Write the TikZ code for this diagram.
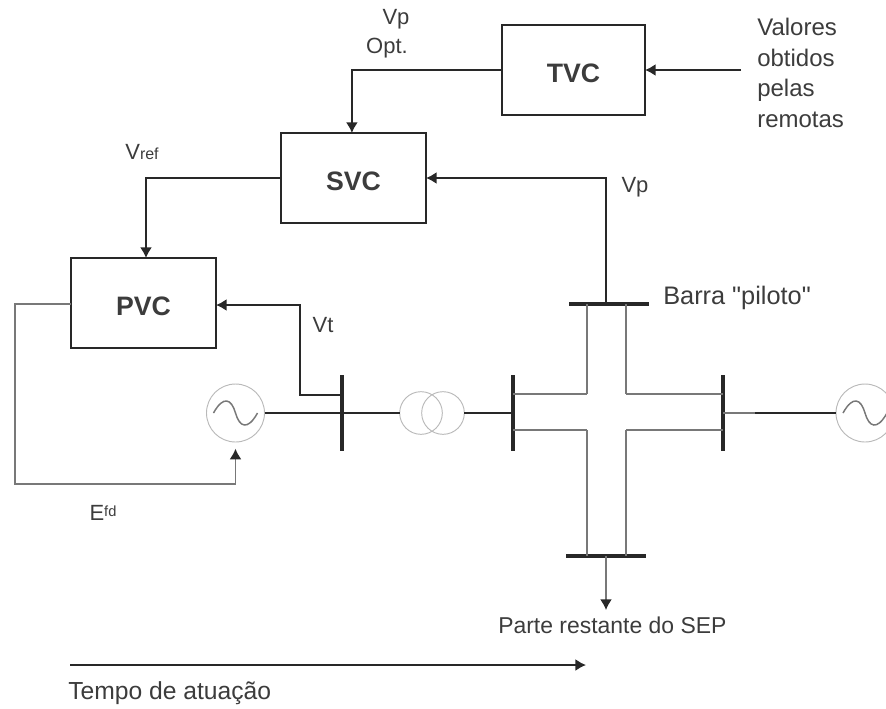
\documentclass[tikz,border=0pt]{standalone}
\usepackage{fontspec}
\setmainfont[Ligatures=TeXOff]{Liberation Sans}
\usetikzlibrary{arrows.meta,positioning,calc}
\definecolor{fio}{RGB}{40,40,40}
\definecolor{fioC}{RGB}{120,120,120}
\definecolor{maqC}{RGB}{185,185,185}
\definecolor{textoC}{RGB}{60,60,60}
\tikzset{
  bloco/.style={rectangle, draw=fio, line width=1.4pt, outer sep=0pt, inner sep=0pt, text height=18pt, text depth=0pt,
                minimum width=108.75pt, minimum height=67.5pt, font=\bfseries\fontsize{20}{22}\selectfont, text=textoC},
  barraV/.style={rectangle, fill=fio, inner sep=0pt, outer sep=0pt, minimum width=2.8pt, minimum height=57pt},
  barraH/.style={rectangle, fill=fio, inner sep=0pt, outer sep=0pt, minimum height=2.8pt, minimum width=60pt},
  maq/.style={circle, draw=maqC, line width=0.7pt, inner sep=0pt, outer sep=0pt, minimum size=43.5pt},
  trafo/.style={circle, draw=maqC, line width=0.7pt, inner sep=0pt, outer sep=0pt, minimum size=32pt},
  rotulo/.style={inner sep=0pt, text=textoC, font=\fontsize{18}{23}\selectfont, align=left},
  rotuloP/.style={inner sep=0pt, text=textoC, font=\fontsize{16.5}{20}\selectfont},
  arr/.style={-{Latex[length=8pt,width=9pt,color=fio]}, line width=1.3pt, draw=fio},
  fiacao/.style={line width=1.3pt, draw=fio},
  fiacaoC/.style={line width=1.2pt, draw=fioC},
}

\begin{document}
\begin{tikzpicture}[x=0.75pt, y=-0.75pt]
    \useasboundingbox (0,0) rectangle (886,708);
    % blocos
    \node[bloco] (pvc) at (143.5,303) {PVC};
    \node[bloco, above right=26.25pt and 48.75pt of pvc] (svc) {SVC};
    \node[bloco, minimum width=107.25pt, above right=13.5pt and 57pt of svc] (tvc) {TVC};
    % barras
    \node[barraV] (b1) at (342,413) {};
    \node[barraV] (b2) at (513,413) {};
    \node[barraV] (b3) at (723,413) {};
    \node[barraH] (bp) at (608.5,304) {};
    \node[barraH] (bi) at (606,556) {};
    % maquinas
    \node[maq] (g1) at (235.5,413) {};
    \node[maq] (g2) at (865,413) {};
    \node[trafo] (t1) at (421,413) {};
    \node[trafo] (t2) at (443,413) {};
    \foreach \g in {g1,g2}
      \draw[line width=1.1pt, draw=fioC] ($(\g.center)+(-22,0)$) .. controls ($(\g.center)+(-12,-18)$) and ($(\g.center)+(-4,-14)$) .. (\g.center)
        .. controls ($(\g.center)+(4,14)$) and ($(\g.center)+(12,18)$) .. ($(\g.center)+(22,0)$);
    % rotulos
    \node[rotuloP] (vp1) at (396,19) {Vp};
    \node[rotuloP] (opt) at (387,48) {Opt.};
    \node[rotuloP] (vref) at (142,152) {V\fontsize{12}{14}\selectfont ref};
    \node[rotuloP] (vp2) at (635,187) {Vp};
    \node[rotuloP] (vt) at (323,325) {Vt};
    \node[rotuloP] (efd) at (103,513) {E\raisebox{3pt}{\fontsize{11}{12}\selectfont fd}};
    \node[rotulo, anchor=west, font=\fontsize{19}{23}\selectfont] (piloto) at (663,298) {Barra "piloto"};
    \node[rotulo, anchor=north west] (valores) at (757,18) {Valores\\obtidos\\pelas\\remotas};
    \node[rotulo, anchor=west, font=\fontsize{17.2}{23}\selectfont] (parte) at (498,625) {Parte restante do SEP};
    \node[rotulo, anchor=west, font=\fontsize{18.5}{23}\selectfont] (tempo) at (68,693) {Tempo de atuação};
    \coordinate (tempoA) at (70,665);
    \coordinate (tempoB) at (586,665);
    \coordinate (saida) at (606,610);
    \coordinate (m3) at (755,413);
    % ligacoes de controle
    \draw[arr] (valores.west |- tvc.east) ++(-16,0) coordinate (vin) -- (tvc.east);
    \draw[arr] (tvc.west) -| ([xshift=-1.2pt]svc.north);
    \draw[arr] (svc.west) -- ++(-135,0) coordinate (c1) -- (c1 |- pvc.north);
    \draw[arr] (bp.center) ++(-2.5,0) coordinate (c2) -- (c2 |- svc.east) -- (svc.east);
    \draw[arr] (b1.center |- 0,395) -- (300,395) -- (300,305) -- (pvc.east |- 0,305);
    \draw[arr, draw=fioC, shorten >=5pt] (pvc.west |- 0,304) -- (15,304) -- (15,484) -- (g1.south |- 0,484) -- (g1.south);
    % rede
    \draw[fiacao] (g1) -- (b1.center) -- (t1);
    \draw[fiacao] (t2) -- (b2.center);
    \draw[fiacaoC] (b3.center) -- (m3);
    \draw[fiacao] (m3) -- (g2);
    \foreach \y in {394,430} {
      \draw[fiacaoC] (b2.center |- 0,\y) -- (587,\y);
      \draw[fiacaoC] (626,\y) -- (b3.center |- 0,\y);
    }
    \draw[fiacaoC] (587,304) -- (587,394) (626,304) -- (626,394);
    \draw[fiacaoC] (587,430) -- (587,556) (626,430) -- (626,556);
    \draw[arr, draw=fioC] (bi.center) -- (saida);
    \draw[arr] (tempoA) -- (tempoB);
  \end{tikzpicture}
\end{document}
